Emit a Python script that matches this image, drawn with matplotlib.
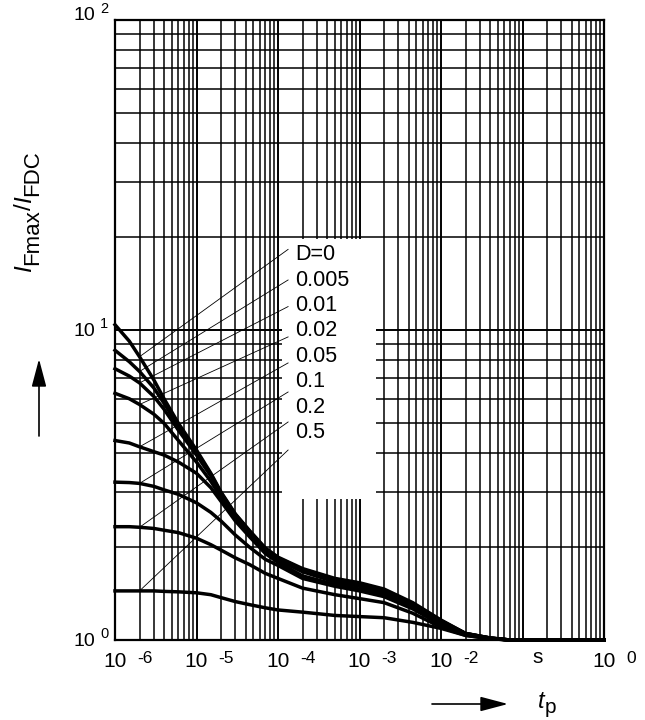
import numpy as np
import matplotlib
matplotlib.use("Agg")
import matplotlib.pyplot as plt
from matplotlib.ticker import LogLocator, NullFormatter
from matplotlib.patches import Rectangle

plt.rcParams['font.family'] = ['Liberation Sans', 'DejaVu Sans']

# pulse duration t_p in s
tp = [1e-6, 1.5e-6, 2e-6, 3e-6, 4e-6, 6e-6, 1e-5, 1.5e-5, 2e-5, 3e-5, 4.5e-5, 7e-5,
      1e-4, 2e-4, 5e-4, 1e-3, 2e-3, 4.5e-3, 1e-2, 2e-2, 4e-2, 7e-2, 1e-1, 1.0]

# I_Fmax / I_FDC for each duty cycle D
d_0 = [10.4, 9.2, 8.2, 6.9, 6.0, 5.0, 4.1, 3.45, 3.0, 2.55, 2.25, 1.98,
       1.85, 1.70, 1.58, 1.53, 1.46, 1.32, 1.16, 1.05, 1.015, 1.0, 1.0, 1.0]
d_0005 = [8.6, 7.9, 7.35, 6.5, 5.8, 4.9, 4.05, 3.42, 2.98, 2.54, 2.24, 1.97,
          1.84, 1.69, 1.57, 1.52, 1.45, 1.31, 1.155, 1.05, 1.015, 1.0, 1.0, 1.0]
d_001 = [7.5, 7.1, 6.75, 6.1, 5.55, 4.75, 3.95, 3.38, 2.95, 2.52, 2.22, 1.96,
         1.83, 1.68, 1.56, 1.51, 1.44, 1.30, 1.15, 1.05, 1.015, 1.0, 1.0, 1.0]
d_002 = [6.25, 6.0, 5.75, 5.35, 5.0, 4.4, 3.75, 3.25, 2.88, 2.48, 2.2, 1.94,
         1.81, 1.66, 1.54, 1.49, 1.42, 1.29, 1.145, 1.048, 1.014, 1.0, 1.0, 1.0]
d_005 = [4.4, 4.32, 4.2, 4.05, 3.95, 3.75, 3.45, 3.1, 2.8, 2.42, 2.15, 1.9,
         1.78, 1.61, 1.51, 1.46, 1.40, 1.27, 1.13, 1.045, 1.013, 1.0, 1.0, 1.0]
d_01 = [3.23, 3.22, 3.2, 3.13, 3.05, 2.95, 2.77, 2.58, 2.42, 2.18, 1.99, 1.82,
        1.74, 1.58, 1.49, 1.44, 1.38, 1.26, 1.12, 1.04, 1.012, 1.0, 1.0, 1.0]
d_02 = [2.32, 2.32, 2.31, 2.29, 2.26, 2.22, 2.13, 2.03, 1.95, 1.84, 1.75, 1.64,
        1.58, 1.47, 1.40, 1.36, 1.32, 1.22, 1.10, 1.035, 1.01, 1.0, 1.0, 1.0]
d_05 = [1.44, 1.44, 1.44, 1.44, 1.435, 1.43, 1.42, 1.40, 1.37, 1.33, 1.30, 1.27,
        1.25, 1.23, 1.20, 1.19, 1.18, 1.14, 1.09, 1.035, 1.01, 1.0, 1.0, 1.0]

curves = [d_0, d_0005, d_001, d_002, d_005, d_01, d_02, d_05]
duty_labels = ['D=0', '0.005', '0.01', '0.02', '0.05', '0.1', '0.2', '0.5']
label_y = [17.46, 14.45, 12.0, 9.96, 8.21, 6.82, 5.62, 4.67]
leader_end_y = [18.2, 14.5, 11.9, 9.5, 7.83, 6.31, 5.05, 4.10]

x_ticks = [1e-6, 1e-5, 1e-4, 1e-3, 1e-2, 1e-1, 1.0]
x_exps = ['-6', '-5', '-4', '-3', '-2', '', '0']
y_ticks = [1, 10, 100]
y_exps = ['0', '1', '2']

W, H = 645, 720
fig = plt.figure(figsize=(W / 100, H / 100), dpi=100)
ax = fig.add_axes([115 / W, 80 / H, 489 / W, 620 / H])
ax.set_xscale('log')
ax.set_yscale('log')
ax.set_xlim(1e-6, 1)
ax.set_ylim(1, 100)
ax.xaxis.set_minor_locator(LogLocator(base=10, subs=np.arange(2, 10)))
ax.yaxis.set_minor_locator(LogLocator(base=10, subs=np.arange(2, 10)))
ax.xaxis.set_minor_formatter(NullFormatter())
ax.yaxis.set_minor_formatter(NullFormatter())
ax.set_axisbelow(True)
ax.grid(which='minor', color='black', lw=1.1)
ax.grid(which='major', color='black', lw=1.4)
ax.tick_params(which='both', length=0)
for sp in ax.spines.values():
    sp.set_linewidth(1.6)

ax.set_xticks(x_ticks)
ax.set_xticklabels(['10' if e else '' for e in x_exps])
ax.set_yticks(y_ticks)
ax.set_yticklabels(['10'] * len(y_ticks))
ax.tick_params(axis='x', pad=8.5, labelsize=15)
ax.tick_params(axis='y', pad=14, labelsize=14)
# the top label sits on the frame line, as in the original
ax.get_yticklabels()[-1].set_va('baseline')

for xt, e in zip(x_ticks, x_exps):
    if e:
        ax.annotate(e, xy=(xt, 0), xycoords=('data', 'axes fraction'),
                    xytext=(22, -23), textcoords='offset pixels',
                    ha='left', va='baseline', fontsize=12.5, annotation_clip=False)
for yt, e in zip(y_ticks, y_exps):
    dy = 7 if yt == 100 else 2
    ax.annotate(e, xy=(0, yt), xycoords=('axes fraction', 'data'),
                xytext=(-15, dy), textcoords='offset pixels',
                ha='left', va='baseline', fontsize=10.5, annotation_clip=False)
ax.annotate('s', xy=(0.155, 0), xycoords=('data', 'axes fraction'),
            xytext=(0, -23), textcoords='offset pixels',
            ha='center', va='baseline', fontsize=15, annotation_clip=False)

# white field behind the duty-cycle labels
ax.add_patch(Rectangle((1.12e-4, 2.85), 1.59e-3 - 1.12e-4, 19.6 - 2.85,
                       facecolor='white', edgecolor='none', zorder=1))

for vals, lab, ly, ley in zip(curves, duty_labels, label_y, leader_end_y):
    ax.plot(tp, vals, color='black', lw=2.5, clip_on=False, zorder=3)
    ax.plot([tp[2], 1.33e-4], [vals[2], ley], color='black', lw=0.6, zorder=2.5)
    ax.text(1.62e-4, ly, lab, fontsize=15.5, ha='left', va='center', zorder=4)


def chain_text(x_px, y_px, parts, rotation=0):
    r = fig.canvas.get_renderer()
    pos = 0.0
    for s, size, italic, shift in parts:
        if rotation == 0:
            px, py = x_px + pos, y_px + shift
        else:
            px, py = x_px + shift, y_px - pos
        txt = fig.text(px / W, 1 - py / H, s, fontsize=size,
                       style='italic' if italic else 'normal',
                       rotation=rotation, rotation_mode='anchor',
                       ha='left', va='baseline')
        bb = txt.get_window_extent(r)
        pos += bb.width if rotation == 0 else bb.height


chain_text(31, 272, [('I', 17.5, True, 0), ('Fmax', 16, False, 7), ('/', 17.5, False, 0),
                     ('I', 17.5, True, 0), ('FDC', 16, False, 7)], rotation=90)
chain_text(538, 708, [('t', 17, True, 0), ('p', 15, False, 5)])

arrow = dict(arrowstyle='-|>,head_length=1.7,head_width=0.45', color='black',
             lw=1.2, mutation_scale=10, shrinkA=0, shrinkB=0)
ax.annotate('', xy=(508, H - 704), xycoords='figure pixels',
            xytext=(432, H - 704), textcoords='figure pixels', arrowprops=arrow)
ax.annotate('', xy=(39, H - 359), xycoords='figure pixels',
            xytext=(39, H - 436), textcoords='figure pixels', arrowprops=arrow)

fig.savefig('out.png', dpi=100)
